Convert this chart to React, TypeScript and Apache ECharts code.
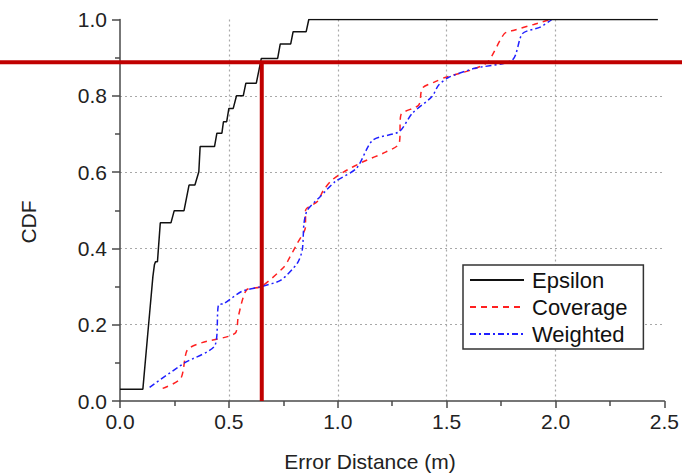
import React, { useEffect, useRef } from "react";
import * as echarts from "echarts";

// ---- data ----
const seriesNames = ["Epsilon", "Coverage", "Weighted"];

const epsilonData: [number, number][] = [
  [0, 0.031], [0.105, 0.031], [0.125, 0.16], [0.136, 0.23], [0.151, 0.326],
  [0.158, 0.357], [0.163, 0.365], [0.172, 0.365], [0.185, 0.467], [0.234, 0.467],
  [0.249, 0.499], [0.294, 0.499], [0.317, 0.566], [0.344, 0.566], [0.362, 0.601],
  [0.368, 0.667], [0.434, 0.667], [0.445, 0.702], [0.468, 0.702], [0.475, 0.732],
  [0.49, 0.732], [0.5, 0.767], [0.52, 0.767], [0.535, 0.8], [0.566, 0.8],
  [0.578, 0.833], [0.626, 0.833], [0.649, 0.898], [0.724, 0.898], [0.736, 0.936],
  [0.784, 0.936], [0.795, 0.968], [0.855, 0.968], [0.867, 1.0], [2.47, 1.0],
];

const coverageData: [number, number][] = [
  [0.196, 0.033], [0.279, 0.059], [0.309, 0.134], [0.377, 0.153], [0.528, 0.177],
  [0.543, 0.221], [0.581, 0.291], [0.649, 0.3], [0.754, 0.352], [0.777, 0.374],
  [0.814, 0.413], [0.852, 0.457], [0.852, 0.5], [0.905, 0.522], [0.935, 0.553],
  [0.973, 0.579], [1.026, 0.6], [1.116, 0.627], [1.222, 0.653], [1.282, 0.675],
  [1.29, 0.75], [1.372, 0.776], [1.388, 0.82], [1.448, 0.837], [1.493, 0.848],
  [1.614, 0.868], [1.689, 0.889], [1.765, 0.963], [1.81, 0.972], [1.9, 0.987],
  [1.976, 1.0],
];

const weightedData: [number, number][] = [
  [0.136, 0.036], [0.294, 0.099], [0.437, 0.147], [0.452, 0.252], [0.477, 0.255],
  [0.558, 0.287], [0.649, 0.3], [0.739, 0.317], [0.814, 0.361], [0.837, 0.396],
  [0.845, 0.466], [0.86, 0.5], [0.92, 0.536], [0.988, 0.575], [1.086, 0.61],
  [1.161, 0.684], [1.282, 0.706], [1.342, 0.754], [1.433, 0.798], [1.463, 0.828],
  [1.508, 0.848], [1.629, 0.872], [1.802, 0.894], [1.848, 0.963], [1.93, 0.98],
  [1.983, 1.0],
];

// annotation (red cross-hair) position in data units
const markX = 0.651;
const markY = 0.888;

const xAxisRange = [0, 2.5];
const yAxisRange = [0, 1];
const xTitle = "Error Distance (m)";
const yTitle = "CDF";

const FONT = "'Liberation Sans', Arial, sans-serif";

export default function App() {
  const ref = useRef<HTMLDivElement>(null);

  useEffect(() => {
    document.body.style.margin = "0";
    if (!ref.current) return;
    const chart = echarts.init(ref.current, null, { renderer: "svg" });

    const axisLine = { show: true, lineStyle: { color: "#4a4a4a", width: 1.5 } };
    const splitLine = {
      show: true,
      showMinLine: false,
      showMaxLine: false,
      lineStyle: { color: "#a8a8a8", width: 1.2, type: [2, 3] as any },
    };

    chart.setOption({
      animation: false,
      backgroundColor: "#ffffff",
      grid: { left: 120, top: 19.5, width: 550, height: 381.5, containLabel: false },
      xAxis: {
        type: "value",
        min: xAxisRange[0],
        max: xAxisRange[1],
        interval: 0.5,
        axisLine,
        axisTick: { show: true, length: 7, lineStyle: { color: "#4a4a4a", width: 1.5 } },
        minorTick: { show: true, splitNumber: 2, length: 5, lineStyle: { color: "#4a4a4a", width: 1.5 } },
        axisLabel: {
          show: true,
          margin: 10,
          fontSize: 21,
          fontFamily: FONT,
          color: "#222",
          formatter: (v: number) => v.toFixed(1),
        },
        splitLine,
      },
      yAxis: {
        type: "value",
        min: yAxisRange[0],
        max: yAxisRange[1],
        interval: 0.2,
        axisLine,
        axisTick: { show: true, length: 8, lineStyle: { color: "#4a4a4a", width: 1.5 } },
        minorTick: { show: true, splitNumber: 2, length: 5, lineStyle: { color: "#4a4a4a", width: 1.5 } },
        axisLabel: {
          show: true,
          margin: 13,
          fontSize: 21,
          fontFamily: FONT,
          color: "#222",
          formatter: (v: number) => v.toFixed(1),
        },
        splitLine,
      },
      legend: {
        show: true,
        orient: "vertical",
        left: 463,
        top: 265,
        padding: [4, 16, 4, 6],
        itemWidth: 54,
        itemHeight: 14,
        itemGap: 5,
        backgroundColor: "#ffffff",
        borderColor: "#333",
        borderWidth: 1.5,
        borderRadius: 0,
        itemStyle: { opacity: 0 },
        data: seriesNames,
        textStyle: {
          fontSize: 22,
          lineHeight: 22,
          fontFamily: FONT,
          color: "#111",
          padding: [0, 0, 0, 3],
        },
      },
      series: [
        {
          name: seriesNames[0],
          type: "line",
          data: epsilonData,
          symbol: "none",
          lineStyle: { color: "#111111", width: 1.5, type: "solid" },
          itemStyle: { color: "#111111" },
          z: 3,
        },
        {
          name: seriesNames[1],
          type: "line",
          data: coverageData,
          symbol: "none",
          smooth: 0.25,
          lineStyle: { color: "#ff2020", width: 1.5, type: [6, 5] },
          itemStyle: { color: "#ff2020" },
          z: 2,
        },
        {
          name: seriesNames[2],
          type: "line",
          data: weightedData,
          symbol: "none",
          smooth: 0.25,
          lineStyle: { color: "#2020ff", width: 1.5, type: [6, 3, 2, 3] },
          itemStyle: { color: "#2020ff" },
          z: 2,
        },
      ],
    });

    const corner = chart.convertToPixel({ gridIndex: 0 }, [markX, markY]) as number[];
    const base = chart.convertToPixel({ gridIndex: 0 }, [markX, yAxisRange[0]]) as number[];

    chart.setOption({
      graphic: [
        {
          type: "line",
          z: 100,
          shape: { x1: 0, y1: corner[1], x2: 682, y2: corner[1] },
          style: { stroke: "#c00000", lineWidth: 4 },
        },
        {
          type: "line",
          z: 100,
          shape: { x1: corner[0], y1: corner[1], x2: base[0], y2: base[1] },
          style: { stroke: "#c00000", lineWidth: 4 },
        },
        {
          type: "text",
          x: 370,
          y: 461,
          style: {
            text: xTitle,
            fontSize: 21,
            fontFamily: FONT,
            fill: "#222",
            textAlign: "center",
            textVerticalAlign: "middle",
          },
        },
        {
          type: "text",
          x: 28.5,
          y: 222,
          rotation: Math.PI / 2,
          style: {
            text: yTitle,
            fontSize: 21,
            fontFamily: FONT,
            fill: "#222",
            textAlign: "center",
            textVerticalAlign: "middle",
          },
        },
      ],
    });

    return () => chart.dispose();
  }, []);

  return <div ref={ref} style={{ width: 682, height: 476 }} />;
}
